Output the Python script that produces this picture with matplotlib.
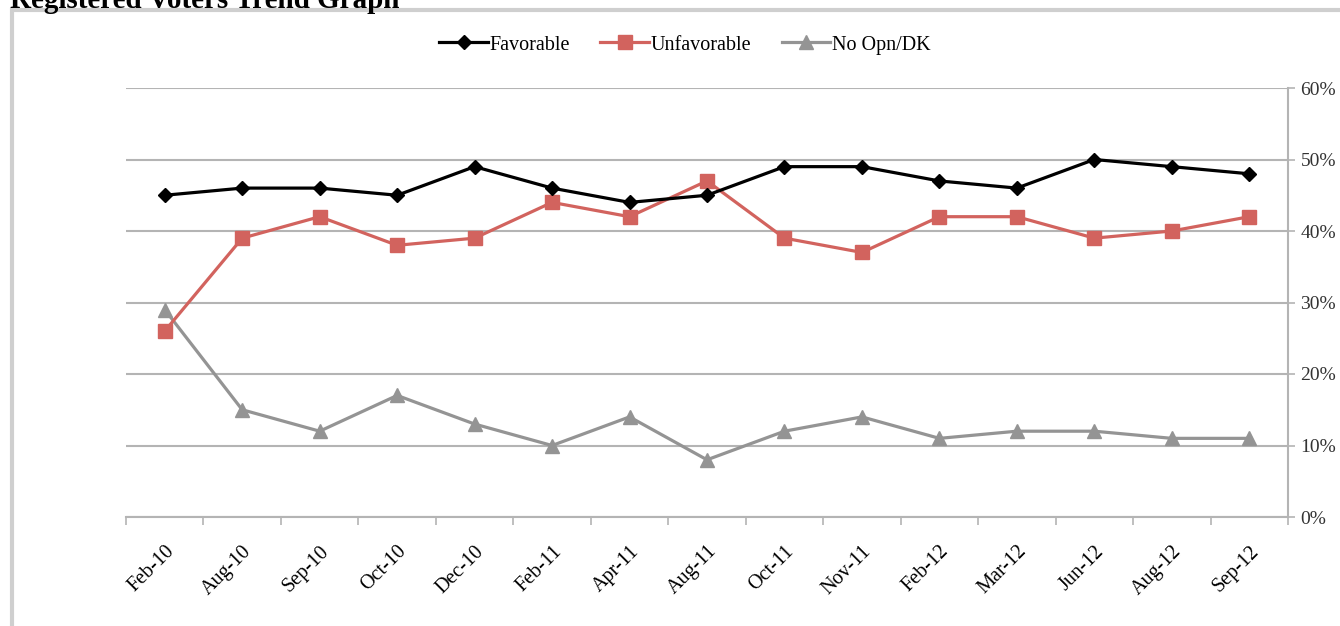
import matplotlib.pyplot as plt
from matplotlib.patches import Rectangle
from matplotlib.ticker import FixedLocator, FuncFormatter

# datos del grafico
months = ["Feb-10", "Aug-10", "Sep-10", "Oct-10", "Dec-10", "Feb-11", "Apr-11", "Aug-11",
          "Oct-11", "Nov-11", "Feb-12", "Mar-12", "Jun-12", "Aug-12", "Sep-12"]
favorable = [45, 46, 46, 45, 49, 46, 44, 45, 49, 49, 47, 46, 50, 49, 48]
unfavorable = [26, 39, 42, 38, 39, 44, 42, 47, 39, 37, 42, 42, 39, 40, 42]
no_opinion = [29, 15, 12, 17, 13, 10, 14, 8, 12, 14, 11, 12, 12, 11, 11]
y_ticks = [0, 10, 20, 30, 40, 50, 60]

plt.rcParams['font.family'] = ['Liberation Serif', 'DejaVu Serif']

fig = plt.figure(figsize=(13.4, 6.26), dpi=100)
ax = fig.add_axes([126 / 1340, 1 - 517 / 626, (1288 - 126) / 1340, (517 - 88) / 626])

x = list(range(len(months)))
ax.plot(x, favorable, color='black', lw=2.3, marker='D', ms=7.5, label='Favorable', zorder=4)
ax.plot(x, unfavorable, color='#d2635e', lw=2.3, marker='s', ms=10, label='Unfavorable', zorder=3)
ax.plot(x, no_opinion, color='#949494', lw=2.3, marker='^', ms=10, label='No Opn/DK', zorder=2)

ax.set_xlim(-0.5, len(months) - 0.5)
ax.set_ylim(0, 60)

# eje y a la derecha
ax.yaxis.tick_right()
ax.set_yticks(y_ticks)
ax.yaxis.set_major_formatter(FuncFormatter(lambda v, p: f"{int(v)}%"))
ax.tick_params(axis='y', length=5, width=1.2, color='#b4b4b4', labelsize=14,
               labelcolor='#333333', pad=4)
ax.grid(axis='y', color='#b4b4b4', lw=1.5)
ax.set_axisbelow(True)

# eje x con marcas entre categorias
ax.set_xticks(x)
ax.set_xticklabels(months, rotation=45, ha='right', rotation_mode='anchor', fontsize=14.5)
ax.tick_params(axis='x', which='major', length=0, pad=18)
ax.xaxis.set_minor_locator(FixedLocator([i - 0.5 for i in range(len(months) + 1)]))
ax.tick_params(axis='x', which='minor', length=6, width=1.2, color='#b4b4b4')

for side in ['top', 'left']:
    ax.spines[side].set_visible(False)
for side in ['bottom', 'right']:
    ax.spines[side].set_color('#b4b4b4')
    ax.spines[side].set_linewidth(1.5)

ax.legend(loc='center', bbox_to_anchor=(685 / 1340, 1 - 45 / 626), bbox_transform=fig.transFigure,
          ncol=3, frameon=False, fontsize=14.5, handlelength=2.4, handletextpad=0.1,
          columnspacing=1.5)

# marco exterior y titulo cortado
fig.patches.append(Rectangle((12 / 1340, -0.01), 1.0, 1 - 10 / 626 + 0.01, transform=fig.transFigure,
                             fill=False, edgecolor='#cfcfcf', lw=3))
fig.text(10 / 1340, 1.0, "Registered Voters Trend Graph", fontsize=21, fontweight='bold',
         ha='left', va='center')

fig.savefig('out.png', dpi=100)
